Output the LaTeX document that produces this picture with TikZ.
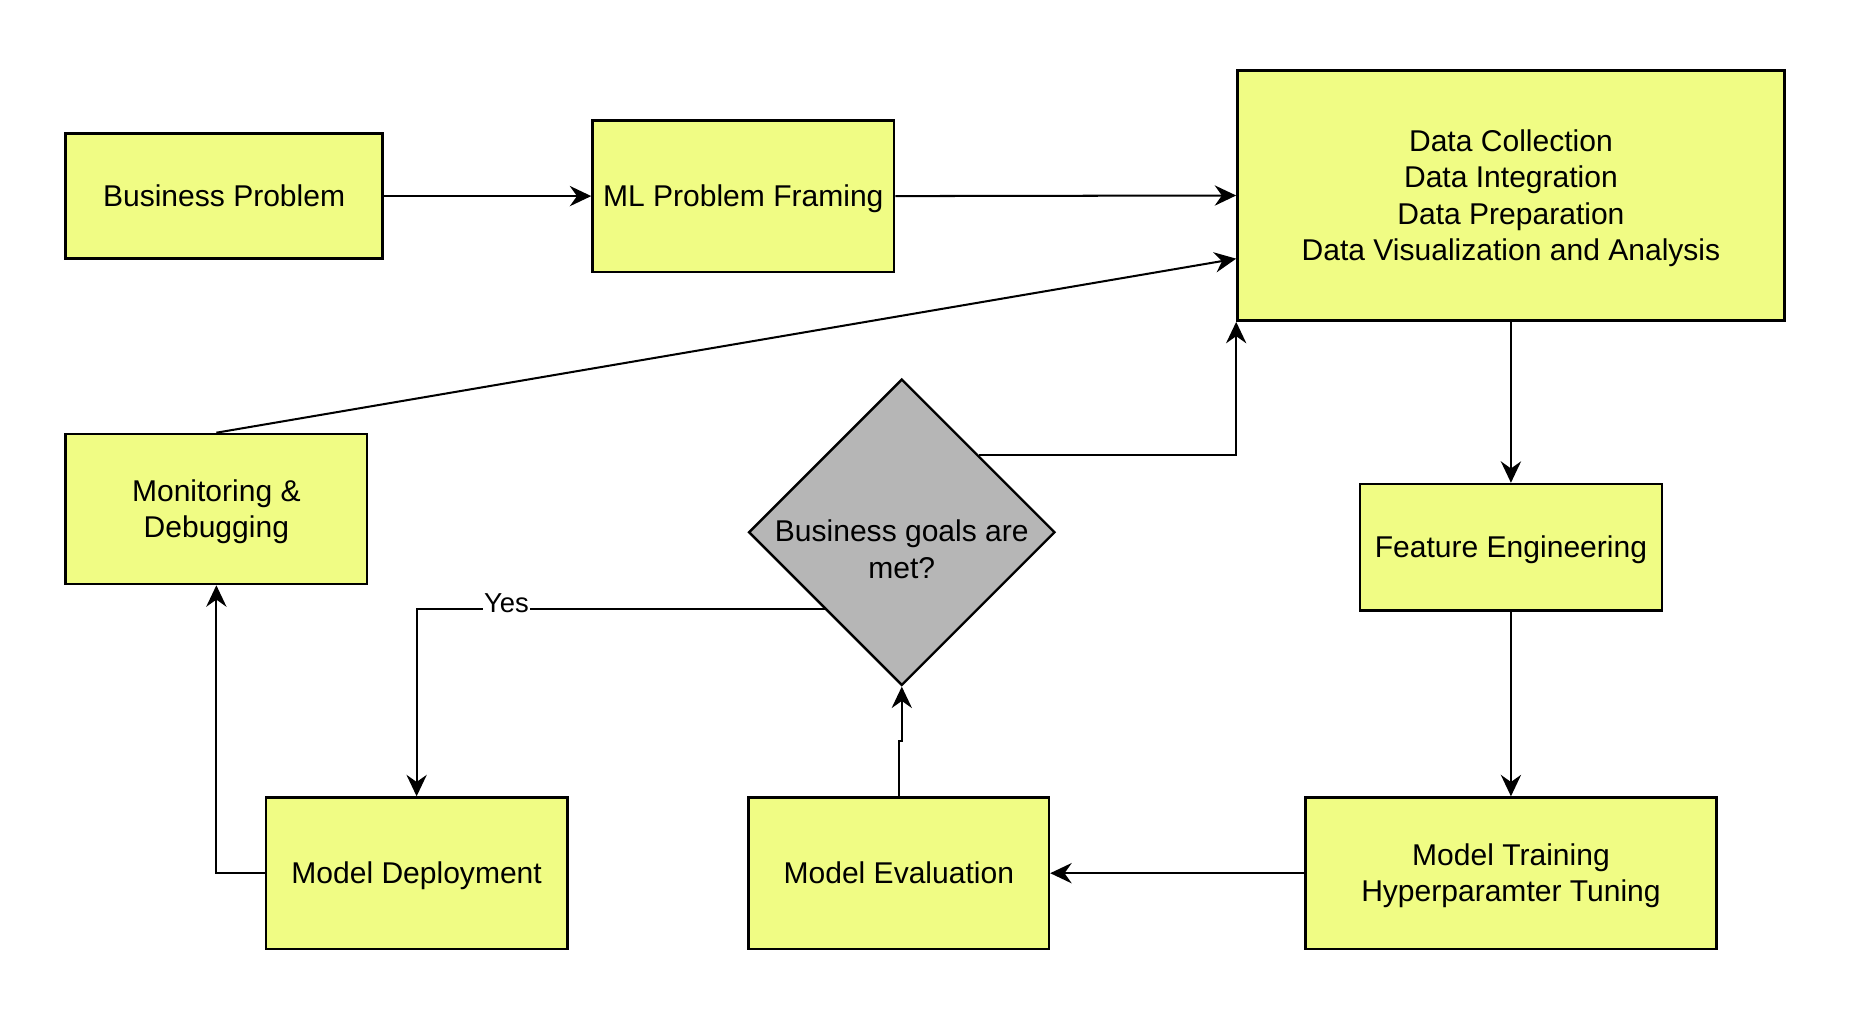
\documentclass[tikz,border=0pt]{standalone}
\usepackage{fontspec}
\setmainfont{Liberation Sans}
\usetikzlibrary{shapes.geometric,arrows.meta,calc}
\definecolor{boxyellow}{HTML}{F0FC84}
\definecolor{diagray}{HTML}{B6B6B6}
\newcommand\mystrut{\rule[-5.3pt]{0pt}{28.1pt}}
\begin{document}
\begin{tikzpicture}[x=1pt,y=-1pt,
  every node/.style={font=\fontsize{25.2}{30.7}\selectfont},
  box/.style={draw=black,line width=2pt,fill=boxyellow,rectangle,inner sep=0pt,align=center},
  dia/.style={draw=black,line width=2pt,fill=diagray,diamond,inner sep=0pt,minimum width=257,minimum height=257},
  conn/.style={line width=1.7pt,-{Stealth[length=18pt,width=17pt,inset=6pt]}},
  lbl/.style={fill=white,inner sep=1pt,font=\fontsize{23}{27}\selectfont}]
\useasboundingbox (0,0) rectangle (1562,866);
\node[box,minimum width=266,minimum height=105] (bp) at (188,164.5) {\mystrut Business Problem};
\node[box,minimum width=253,minimum height=127] (ml) at (623.5,164.5) {\mystrut ML Problem Framing};
\node[box,minimum width=459,minimum height=210] (data) at (1267.5,164) {\mystrut Data Collection\\\mystrut Data Integration\\\mystrut Data Preparation\\\mystrut Data Visualization and Analysis};
\node[box,minimum width=253,minimum height=126] (mon) at (181.5,427) {\mystrut Monitoring \&\\\mystrut Debugging};
\node[dia] (dec) at (756.5,446.5) {};
\node[align=center,inner sep=0pt] (dect) at (756.5,461) {\mystrut Business goals are\\\mystrut met?};
\node[box,minimum width=253,minimum height=106] (fe) at (1267.5,459) {\mystrut Feature Engineering};
\node[box,minimum width=253,minimum height=127] (mdep) at (349.5,732.5) {\mystrut Model Deployment};
\node[box,minimum width=252,minimum height=127] (meval) at (754,732.5) {\mystrut Model Evaluation};
\node[box,minimum width=345,minimum height=127] (mt) at (1267.5,732.5) {\mystrut Model Training\\\mystrut Hyperparamter Tuning};
\coordinate (datain) at ($(data.south west)!0.25!(data.north west)$);
\coordinate (jog) at ($(meval.north)+(0,-46)$);
\draw[conn] (bp.east) -- (ml.west);
\draw[conn] (ml.east) -- (data.west);
\draw[conn] (mon.north) -- (datain);
\draw[conn] (dec.north east) -| (data.south west);
\draw[conn] (dec.south west) -| node[lbl,pos=0.39,yshift=5pt] {Yes} (mdep.north);
\draw[conn] (meval.north) -- (jog) -| (dec.south);
\draw[conn] (data.south) -- (fe.north);
\draw[conn] (fe.south) -- (mt.north);
\draw[conn] (mt.west) -- (meval.east);
\draw[conn] (mdep.west) -| (mon.south);
\end{tikzpicture}
\end{document}
